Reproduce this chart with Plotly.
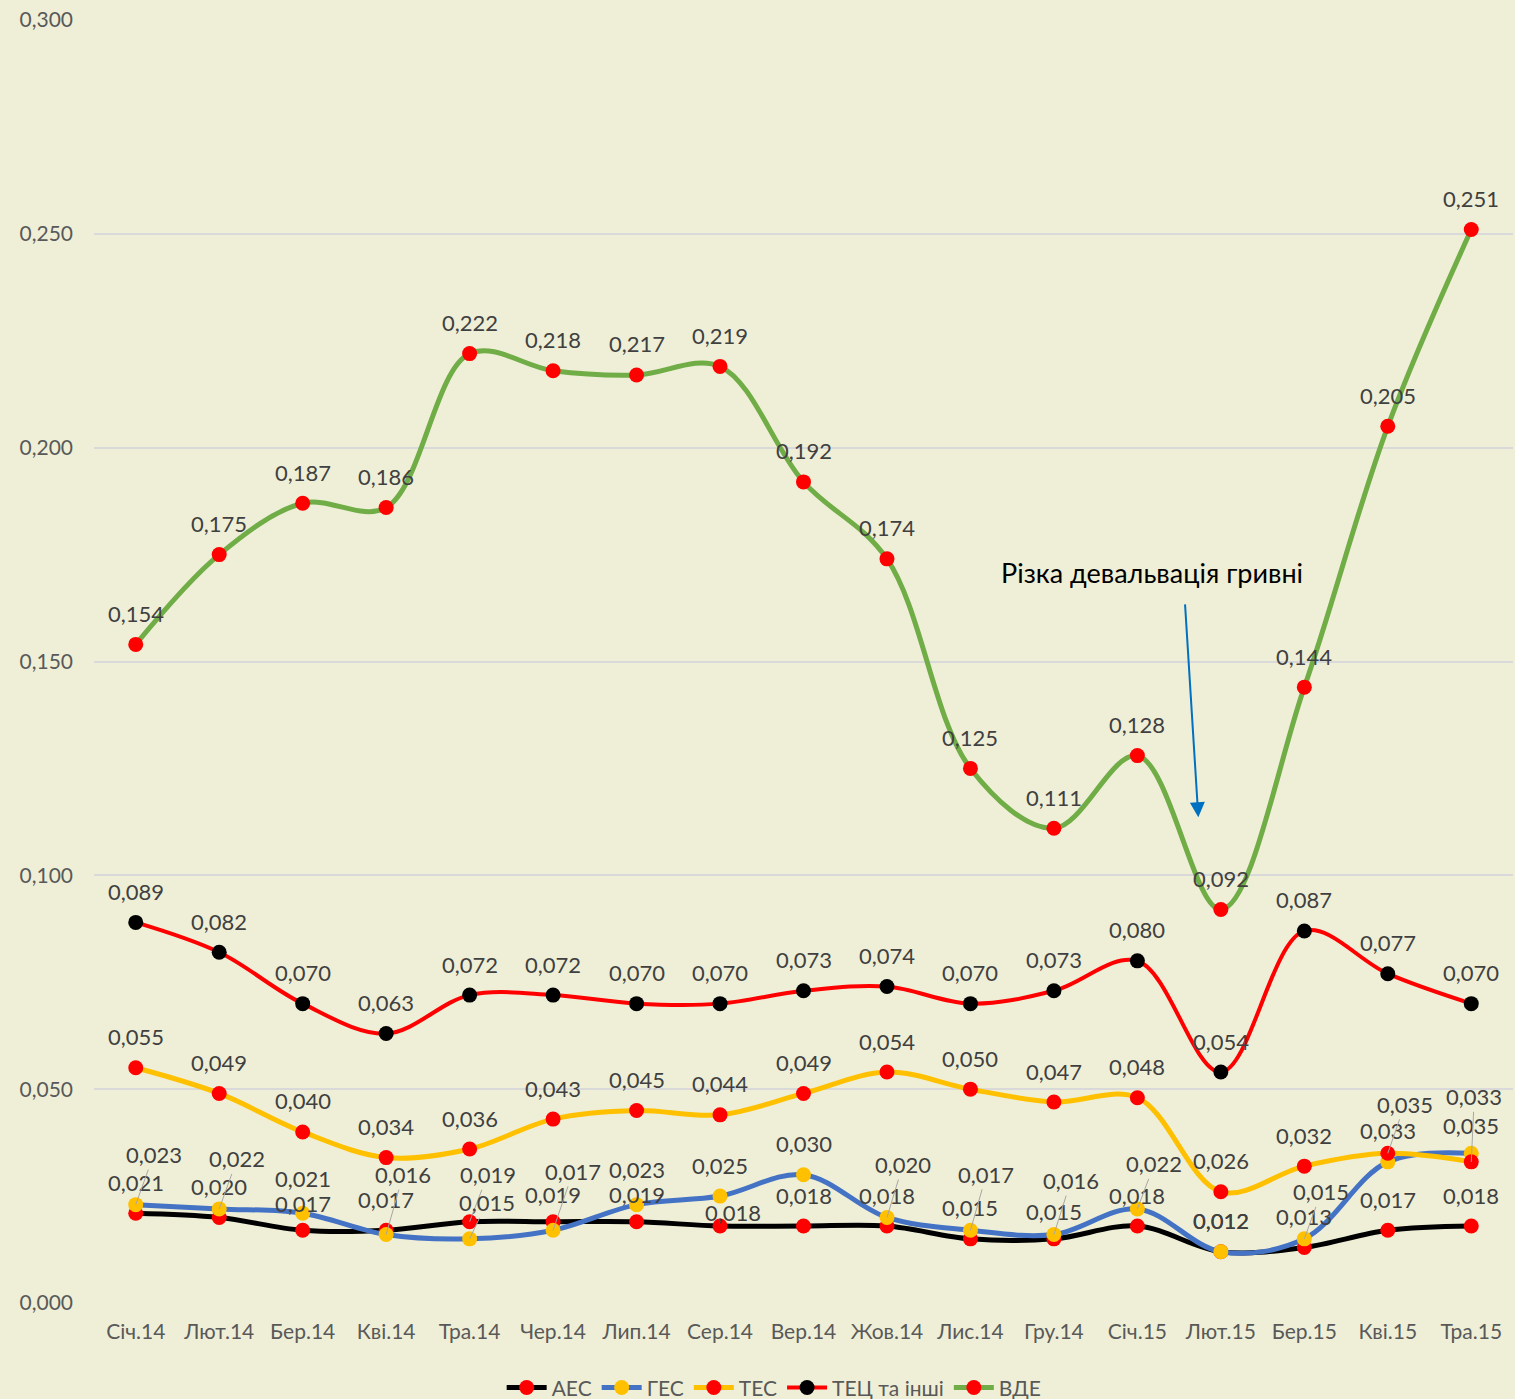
import plotly.graph_objects as go

months = ["Січ.14", "Лют.14", "Бер.14", "Кві.14", "Тра.14", "Чер.14", "Лип.14", "Сер.14",
          "Вер.14", "Жов.14", "Лис.14", "Гру.14", "Січ.15", "Лют.15", "Бер.15", "Кві.15", "Тра.15"]

aes = [0.021, 0.020, 0.017, 0.017, 0.019, 0.019, 0.019, 0.018, 0.018, 0.018, 0.015, 0.015,
       0.018, 0.012, 0.013, 0.017, 0.018]
ges = [0.023, 0.022, 0.021, 0.016, 0.015, 0.017, 0.023, 0.025, 0.030, 0.020, 0.017, 0.016,
       0.022, 0.012, 0.015, 0.033, 0.035]
tes = [0.055, 0.049, 0.040, 0.034, 0.036, 0.043, 0.045, 0.044, 0.049, 0.054, 0.050, 0.047,
       0.048, 0.026, 0.032, 0.035, 0.033]
tets = [0.089, 0.082, 0.070, 0.063, 0.072, 0.072, 0.070, 0.070, 0.073, 0.074, 0.070, 0.073,
        0.080, 0.054, 0.087, 0.077, 0.070]
vde = [0.154, 0.175, 0.187, 0.186, 0.222, 0.218, 0.217, 0.219, 0.192, 0.174, 0.125, 0.111,
       0.128, 0.092, 0.144, 0.205, 0.251]

series_names = ["АЕС", "ГЕС", "ТЕС", "ТЕЦ та інші", "ВДЕ"]
series_values = [aes, ges, tes, tets, vde]
line_colors = ["#000000", "#4472C4", "#FFC000", "#FF0000", "#70AD47"]
marker_colors = ["#FF0000", "#FFC000", "#FF0000", "#000000", "#FF0000"]
line_widths = [5, 5, 5, 4, 5]

# labels moved away from their point, drawn with leader lines: (series, month) -> (dx, dy)
leader = {
    (1, 0): (18, -50), (1, 1): (18, -50), (1, 3): (17, -60), (0, 4): (18, -47),
    (1, 4): (17, -36), (1, 5): (20, -59), (0, 7): (13, -14), (1, 9): (16, -53),
    (1, 10): (16, -56), (1, 11): (17, -54), (1, 12): (17, -45), (1, 14): (17, -47),
    (2, 15): (17, -49), (2, 16): (3, -65),
}
# small vertical nudges (pixels above the point) for crowded label pairs
shift = {(1, 2): 35, (0, 2): 27, (1, 6): 35, (0, 6): 27, (0, 5): 27,
         (0, 11): 27, (1, 16): 28}

FONT = "Lato"
LBL = 22
fig = go.Figure()
for si, (name, vals) in enumerate(zip(series_names, series_values)):
    fig.add_trace(go.Scatter(
        x=months, y=vals, name=name, mode="lines+markers",
        line=dict(color=line_colors[si], width=line_widths[si], shape="spline", smoothing=1.0),
        marker=dict(color=marker_colors[si], size=15),
        hoverinfo="skip",
    ))

annotations = []
for si, vals in enumerate(series_values):
    for mi, v in enumerate(vals):
        txt = f"{v:.3f}".replace(".", ",")
        if (si, mi) in leader:
            dx, dy = leader[(si, mi)]
            annotations.append(dict(
                x=months[mi], y=v, text=txt, showarrow=True, arrowhead=0,
                arrowwidth=1, arrowcolor="#A6A6A6", ax=dx, ay=dy, standoff=0,
                font=dict(family=FONT, size=LBL, color="#404040"),
            ))
        else:
            annotations.append(dict(
                x=months[mi], y=v, text=txt, showarrow=False, yshift=shift.get((si, mi), 31),
                font=dict(family=FONT, size=LBL, color="#404040"),
            ))

# arrow for the devaluation note
annotations.append(dict(
    x=12.73, y=0.1136, xref="x", yref="y", axref="x", ayref="y", ax=12.57, ay=0.1637,
    text="", showarrow=True, arrowhead=2, arrowsize=1.5, arrowwidth=2, arrowcolor="#0070C0",
))
annotations.append(dict(
    x=12.17, y=0.1707, xref="x", yref="y", text="Різка девальвація гривні", showarrow=False,
    font=dict(family=FONT, size=27, color="#000000"),
))

fig.update_layout(
    width=1515, height=1399,
    margin=dict(l=94, r=2, t=20, b=96, autoexpand=False),
    paper_bgcolor="#EFEFD7", plot_bgcolor="#EFEFD7",
    separators=",.",
    font=dict(family=FONT, size=21, color="#595959"),
    showlegend=True,
    legend=dict(orientation="h", xref="container", yref="container",
                x=0.511, xanchor="center", y=0.008, yanchor="middle",
                font=dict(family=FONT, size=21, color="#595959"), bgcolor="rgba(0,0,0,0)",
                itemwidth=40, tracegroupgap=0),
    annotations=annotations,
    hovermode=False,
)
fig.update_xaxes(type="category", range=[-0.5, len(months) - 0.5], showgrid=False,
                 zeroline=False, showline=False,
                 ticks="", ticklabelstandoff=14, automargin=False,
                 tickfont=dict(family=FONT, size=21, color="#595959"))
fig.update_yaxes(range=[0, 0.3], dtick=0.05, tickformat=".3f", showgrid=True,
                 gridcolor="#D9D9D9", gridwidth=2, zeroline=False, showline=False,
                 ticks="", ticklabelstandoff=20, automargin=False,
                 tickfont=dict(family=FONT, size=21, color="#595959"))

fig.write_html("out.html", config={"displayModeBar": False},
               post_script="document.body.style.margin='0';document.body.style.background='#EFEFD7';")
